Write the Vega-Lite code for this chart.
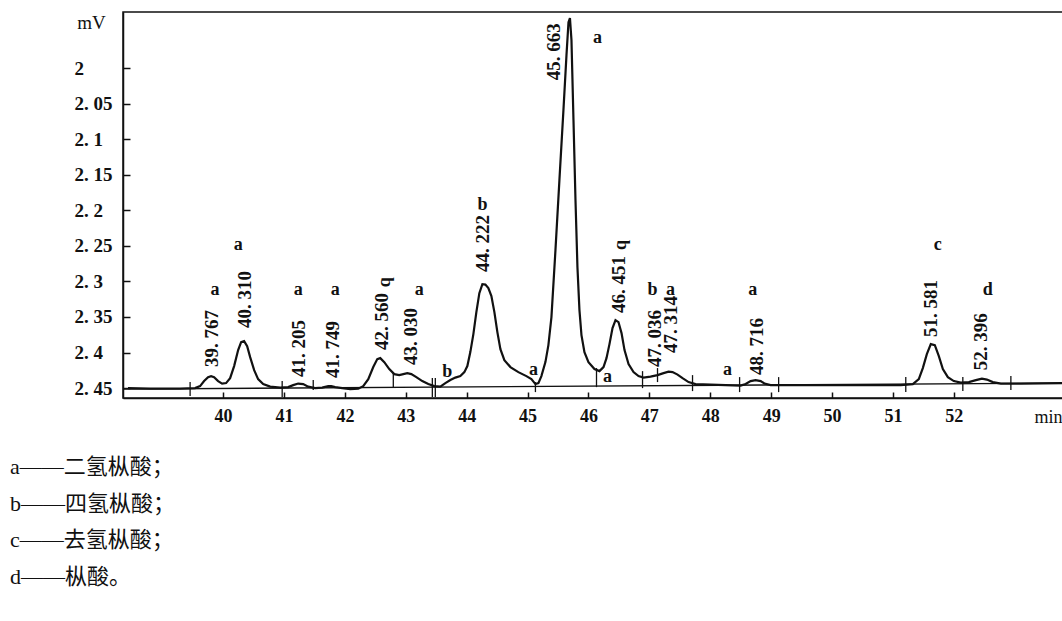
{
  "$schema": "https://vega.github.io/schema/vega-lite/v6.json",
  "width": 940,
  "height": 386,
  "autosize": {"type": "none"},
  "padding": {"left": 123, "top": 12, "right": 0, "bottom": 223},
  "background": "white",
  "view": {"stroke": "#111", "strokeWidth": 1.5},
  "config": {"font": "Liberation Serif", "text": {"color": "#111"}},
  "title": {
    "text": ["a——二氢枞酸；", "b——四氢枞酸；", "c——去氢枞酸；", "d——枞酸。"],
    "orient": "bottom",
    "anchor": "start",
    "frame": "group",
    "dx": -113,
    "offset": 31,
    "font": "Liberation Serif, Noto Sans CJK SC",
    "fontSize": 22,
    "fontWeight": "normal",
    "lineHeight": 36.7,
    "color": "#111"
  },
  "datasets": {
    "curve": [
      {"t": 38.438, "mV": 2.4501}, {"t": 38.800, "mV": 2.4508}, {"t": 39.293, "mV": 2.4508}, {"t": 39.540, "mV": 2.4501},
      {"t": 39.622, "mV": 2.4473}, {"t": 39.688, "mV": 2.4402}, {"t": 39.753, "mV": 2.4346}, {"t": 39.803, "mV": 2.4332},
      {"t": 39.852, "mV": 2.4346}, {"t": 39.918, "mV": 2.4402}, {"t": 39.984, "mV": 2.4437}, {"t": 40.049, "mV": 2.4430},
      {"t": 40.115, "mV": 2.4360}, {"t": 40.181, "mV": 2.4191}, {"t": 40.247, "mV": 2.3966}, {"t": 40.296, "mV": 2.3854},
      {"t": 40.345, "mV": 2.3840}, {"t": 40.395, "mV": 2.3910}, {"t": 40.444, "mV": 2.4065}, {"t": 40.510, "mV": 2.4248},
      {"t": 40.575, "mV": 2.4374}, {"t": 40.658, "mV": 2.4444}, {"t": 40.773, "mV": 2.4480}, {"t": 40.937, "mV": 2.4494},
      {"t": 41.069, "mV": 2.4487}, {"t": 41.151, "mV": 2.4459}, {"t": 41.233, "mV": 2.4437}, {"t": 41.315, "mV": 2.4444},
      {"t": 41.397, "mV": 2.4480}, {"t": 41.512, "mV": 2.4501}, {"t": 41.627, "mV": 2.4494}, {"t": 41.726, "mV": 2.4473},
      {"t": 41.775, "mV": 2.4473}, {"t": 41.841, "mV": 2.4487}, {"t": 41.956, "mV": 2.4501}, {"t": 42.088, "mV": 2.4515},
      {"t": 42.219, "mV": 2.4508}, {"t": 42.301, "mV": 2.4473}, {"t": 42.384, "mV": 2.4374}, {"t": 42.466, "mV": 2.4205},
      {"t": 42.532, "mV": 2.4093}, {"t": 42.581, "mV": 2.4079}, {"t": 42.647, "mV": 2.4135}, {"t": 42.729, "mV": 2.4233},
      {"t": 42.811, "mV": 2.4304}, {"t": 42.893, "mV": 2.4318}, {"t": 42.959, "mV": 2.4304}, {"t": 43.025, "mV": 2.4290},
      {"t": 43.091, "mV": 2.4304}, {"t": 43.173, "mV": 2.4346}, {"t": 43.271, "mV": 2.4402}, {"t": 43.370, "mV": 2.4444},
      {"t": 43.469, "mV": 2.4473}, {"t": 43.567, "mV": 2.4480}, {"t": 43.650, "mV": 2.4430}, {"t": 43.732, "mV": 2.4388},
      {"t": 43.814, "mV": 2.4353}, {"t": 43.896, "mV": 2.4332}, {"t": 43.962, "mV": 2.4276}, {"t": 44.011, "mV": 2.4191},
      {"t": 44.060, "mV": 2.3994}, {"t": 44.110, "mV": 2.3741}, {"t": 44.159, "mV": 2.3432}, {"t": 44.208, "mV": 2.3165},
      {"t": 44.258, "mV": 2.3038}, {"t": 44.307, "mV": 2.3045}, {"t": 44.356, "mV": 2.3094}, {"t": 44.406, "mV": 2.3207},
      {"t": 44.455, "mV": 2.3432}, {"t": 44.504, "mV": 2.3713}, {"t": 44.554, "mV": 2.3952}, {"t": 44.619, "mV": 2.4107},
      {"t": 44.718, "mV": 2.4205}, {"t": 44.849, "mV": 2.4276}, {"t": 44.981, "mV": 2.4332}, {"t": 45.063, "mV": 2.4374},
      {"t": 45.129, "mV": 2.4444}, {"t": 45.178, "mV": 2.4430}, {"t": 45.227, "mV": 2.4332}, {"t": 45.293, "mV": 2.4135},
      {"t": 45.342, "mV": 2.3896}, {"t": 45.392, "mV": 2.3502}, {"t": 45.458, "mV": 2.2560}, {"t": 45.523, "mV": 2.1575},
      {"t": 45.589, "mV": 2.0591}, {"t": 45.639, "mV": 1.9817}, {"t": 45.672, "mV": 1.9353}, {"t": 45.696, "mV": 1.9297},
      {"t": 45.721, "mV": 1.9606}, {"t": 45.754, "mV": 2.0731}, {"t": 45.787, "mV": 2.1857}, {"t": 45.819, "mV": 2.2799},
      {"t": 45.852, "mV": 2.3404}, {"t": 45.885, "mV": 2.3755}, {"t": 45.934, "mV": 2.3994}, {"t": 46.000, "mV": 2.4135},
      {"t": 46.099, "mV": 2.4233}, {"t": 46.181, "mV": 2.4262}, {"t": 46.247, "mV": 2.4205}, {"t": 46.296, "mV": 2.4079},
      {"t": 46.345, "mV": 2.3882}, {"t": 46.395, "mV": 2.3657}, {"t": 46.444, "mV": 2.3544}, {"t": 46.493, "mV": 2.3572},
      {"t": 46.543, "mV": 2.3727}, {"t": 46.592, "mV": 2.3966}, {"t": 46.658, "mV": 2.4163}, {"t": 46.740, "mV": 2.4276},
      {"t": 46.822, "mV": 2.4332}, {"t": 46.904, "mV": 2.4353}, {"t": 47.019, "mV": 2.4339}, {"t": 47.134, "mV": 2.4318},
      {"t": 47.233, "mV": 2.4290}, {"t": 47.315, "mV": 2.4269}, {"t": 47.381, "mV": 2.4276}, {"t": 47.463, "mV": 2.4311},
      {"t": 47.545, "mV": 2.4360}, {"t": 47.644, "mV": 2.4416}, {"t": 47.759, "mV": 2.4444}, {"t": 48.006, "mV": 2.4451},
      {"t": 48.252, "mV": 2.4459}, {"t": 48.499, "mV": 2.4466}, {"t": 48.581, "mV": 2.4444}, {"t": 48.663, "mV": 2.4402},
      {"t": 48.745, "mV": 2.4388}, {"t": 48.828, "mV": 2.4402}, {"t": 48.893, "mV": 2.4437}, {"t": 48.992, "mV": 2.4459},
      {"t": 49.485, "mV": 2.4459}, {"t": 50.307, "mV": 2.4459}, {"t": 51.129, "mV": 2.4459}, {"t": 51.327, "mV": 2.4444},
      {"t": 51.425, "mV": 2.4374}, {"t": 51.491, "mV": 2.4219}, {"t": 51.557, "mV": 2.4023}, {"t": 51.622, "mV": 2.3882},
      {"t": 51.688, "mV": 2.3896}, {"t": 51.754, "mV": 2.4051}, {"t": 51.820, "mV": 2.4233}, {"t": 51.902, "mV": 2.4346},
      {"t": 52.000, "mV": 2.4402}, {"t": 52.115, "mV": 2.4423}, {"t": 52.247, "mV": 2.4416}, {"t": 52.362, "mV": 2.4388},
      {"t": 52.461, "mV": 2.4367}, {"t": 52.543, "mV": 2.4381}, {"t": 52.641, "mV": 2.4416}, {"t": 52.773, "mV": 2.4437},
      {"t": 53.102, "mV": 2.4437}, {"t": 53.792, "mV": 2.4430}
    ],
    "baseline": [
      {"t": 38.356, "mV": 2.4515}, {"t": 53.793, "mV": 2.4430}
    ],
    "markers": [
      {"t": 39.458, "mV": 2.4416, "mV2": 2.4613}, {"t": 40.970, "mV": 2.4402, "mV2": 2.4627},
      {"t": 41.480, "mV": 2.4388, "mV2": 2.4529}, {"t": 42.795, "mV": 2.4290, "mV2": 2.4487},
      {"t": 43.436, "mV": 2.4360, "mV2": 2.4627}, {"t": 43.485, "mV": 2.4360, "mV2": 2.4627},
      {"t": 45.129, "mV": 2.4416, "mV2": 2.4557}, {"t": 46.132, "mV": 2.4219, "mV2": 2.4487},
      {"t": 46.888, "mV": 2.4262, "mV2": 2.4501}, {"t": 47.134, "mV": 2.4219, "mV2": 2.4416},
      {"t": 47.709, "mV": 2.4318, "mV2": 2.4543}, {"t": 48.482, "mV": 2.4346, "mV2": 2.4557},
      {"t": 49.123, "mV": 2.4346, "mV2": 2.4557}, {"t": 51.211, "mV": 2.4346, "mV2": 2.4557},
      {"t": 52.148, "mV": 2.4346, "mV2": 2.4543}, {"t": 52.937, "mV": 2.4332, "mV2": 2.4529}
    ],
    "peaks": [
      {"t": 39.767, "mV": 2.4205, "label": "39. 767"},
      {"t": 40.310, "mV": 2.3657, "label": "40. 310"},
      {"t": 41.205, "mV": 2.4346, "label": "41. 205"},
      {"t": 41.749, "mV": 2.4360, "label": "41. 749"},
      {"t": 42.560, "mV": 2.3966, "label": "42. 560"},
      {"t": 43.030, "mV": 2.4177, "label": "43. 030"},
      {"t": 44.222, "mV": 2.2869, "label": "44. 222"},
      {"t": 45.380, "mV": 2.0169, "label": "45. 663"},
      {"t": 46.451, "mV": 2.3446, "label": "46. 451"},
      {"t": 47.036, "mV": 2.4205, "label": "47. 036"},
      {"t": 47.314, "mV": 2.4008, "label": "47. 314"},
      {"t": 48.716, "mV": 2.4318, "label": "48. 716"},
      {"t": 51.581, "mV": 2.3783, "label": "51. 581"},
      {"t": 52.396, "mV": 2.4248, "label": "52. 396"}
    ],
    "letters": [
      {"t": 39.868, "mV": 2.3122, "letter": "a"},
      {"t": 40.247, "mV": 2.2489, "letter": "a"},
      {"t": 41.233, "mV": 2.3122, "letter": "a"},
      {"t": 41.841, "mV": 2.3122, "letter": "a"},
      {"t": 43.222, "mV": 2.3122, "letter": "a"},
      {"t": 44.258, "mV": 2.1927, "letter": "b"},
      {"t": 46.148, "mV": 1.9578, "letter": "a"},
      {"t": 47.052, "mV": 2.3122, "letter": "b"},
      {"t": 47.348, "mV": 2.3122, "letter": "a"},
      {"t": 48.696, "mV": 2.3122, "letter": "a"},
      {"t": 51.737, "mV": 2.2489, "letter": "c"},
      {"t": 52.559, "mV": 2.3122, "letter": "d"},
      {"t": 43.682, "mV": 2.4276, "letter": "b"},
      {"t": 45.096, "mV": 2.4248, "letter": "a"},
      {"t": 46.312, "mV": 2.4346, "letter": "a"},
      {"t": 48.285, "mV": 2.4248, "letter": "a"}
    ],
    "turnedLetters": [
      {"t": 42.680, "mV": 2.3010, "letter": "b"},
      {"t": 46.543, "mV": 2.2489, "letter": "b"}
    ]
  },
  "encoding": {
    "x": {
      "field": "t", "type": "quantitative",
      "scale": {"domain": [38.356, 53.793], "nice": false, "zero": false},
      "axis": {
        "values": [40, 41, 42, 43, 44, 45, 46, 47, 48, 49, 50, 51, 52],
        "format": "d",
        "grid": false,
        "domainColor": "#111", "domainWidth": 1.5,
        "tickColor": "#111", "tickWidth": 1.5, "tickSize": -6,
        "labelFont": "Liberation Serif", "labelFontSize": 18, "labelFontWeight": "bold",
        "labelColor": "#111", "labelPadding": 15, "labelBaseline": "top",
        "title": "min", "titleX": 925, "titleY": 19, "titleAlign": "center",
        "titleBaseline": "middle", "titleFont": "Liberation Serif",
        "titleFontSize": 18, "titleFontWeight": "normal", "titleColor": "#111"
      }
    },
    "y": {
      "field": "mV", "type": "quantitative",
      "scale": {"domain": [1.921, 2.464], "nice": false, "zero": false, "reverse": true},
      "axis": {
        "values": [2, 2.05, 2.1, 2.15, 2.2, 2.25, 2.3, 2.35, 2.4, 2.45],
        "labelExpr": "datum.value == 2 ? '2' : replace(format(datum.value, '.2~f'), '.', '. ')",
        "grid": false,
        "domainColor": "#111", "domainWidth": 1.5,
        "tickColor": "#111", "tickWidth": 1.5, "tickSize": -7,
        "labelFont": "Liberation Serif", "labelFontSize": 19, "labelFontWeight": "bold",
        "labelColor": "#111", "labelAlign": "left", "labelBaseline": "middle", "labelPadding": 56,
        "title": "mV", "titleAngle": 0, "titleX": -32, "titleY": 10,
        "titleAlign": "center", "titleBaseline": "middle", "titleFont": "Liberation Serif",
        "titleFontSize": 19, "titleFontWeight": "normal", "titleColor": "#111"
      }
    }
  },
  "layer": [
    {
      "data": {"name": "baseline"},
      "mark": {"type": "line", "color": "#111", "strokeWidth": 1.3, "clip": true}
    },
    {
      "data": {"name": "curve"},
      "mark": {"type": "line", "color": "#111", "strokeWidth": 2.2, "clip": true}
    },
    {
      "data": {"name": "markers"},
      "mark": {"type": "rule", "color": "#111", "strokeWidth": 1.3},
      "encoding": {
        "y2": {"field": "mV2"}
      }
    },
    {
      "data": {"name": "peaks"},
      "mark": {"type": "text", "angle": 270, "align": "left", "baseline": "middle", "dy": 3,
               "font": "Liberation Serif", "fontSize": 19, "fontWeight": "bold", "color": "#111"},
      "encoding": {
        "text": {"field": "label"}
      }
    },
    {
      "data": {"name": "letters"},
      "mark": {"type": "text", "align": "center", "baseline": "middle",
               "font": "Liberation Serif", "fontSize": 18, "fontWeight": "bold", "color": "#111"},
      "encoding": {
        "text": {"field": "letter"}
      }
    },
    {
      "data": {"name": "turnedLetters"},
      "mark": {"type": "text", "angle": 90, "align": "center", "baseline": "middle",
               "font": "Liberation Serif", "fontSize": 18, "fontWeight": "bold", "color": "#111"},
      "encoding": {
        "text": {"field": "letter"}
      }
    }
  ]
}
